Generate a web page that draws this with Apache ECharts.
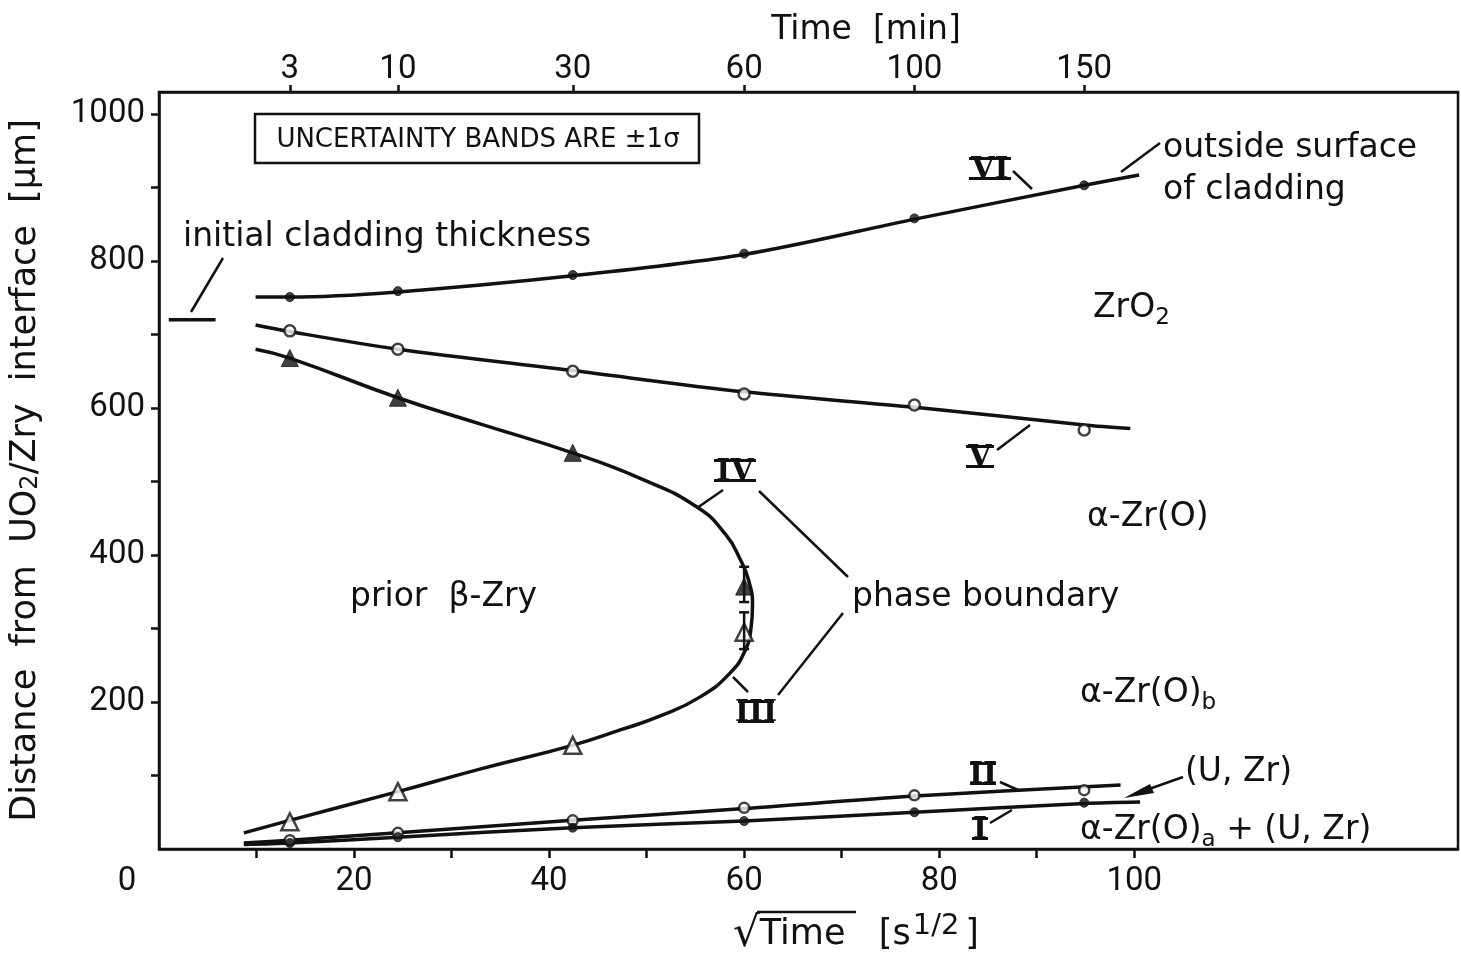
<!DOCTYPE html>
<html>
<head>
<meta charset="utf-8">
<script src="https://cdn.jsdelivr.net/npm/echarts@6/dist/echarts.min.js"></script>
<style>
  html, body { margin: 0; padding: 0; background: #fff; }
  #chart { width: 1461px; height: 954px; }
</style>
</head>
<body>
<div id="chart"></div>
<script>
// Oxidation times (min) at which the specimens were sectioned
const timeMin = [3, 10, 30, 60, 100, 150];
// Abscissa in sqrt(seconds)
const sqrtTime = timeMin.map(m => Math.sqrt(m * 60));

// Measured boundary positions (µm from the UO2/Zry interface)
const posVI = [751, 759, 781, 810, 858, 903];   // outside surface of cladding
const posV = [705, 680, 650, 619, 604, 570];    // ZrO2 / alpha-Zr(O)
const posIV = [668, 614, 539, 357];             // alpha-Zr(O) / prior beta
const posIII = [37, 78, 141, 295];              // prior beta / alpha-Zr(O)b
const posII = [12, 22, 39, 56, 73, 80];         // (U,Zr) outer boundary
const posI = [8, 16, 29, 38, 50, 63];           // alpha-Zr(O)a + (U,Zr)

// Uncertainty bands at 60 min for the two phase boundaries [x, low, high]
const errIV = [[60, 336, 384]];
const errIII = [[60, 272, 322]];

// Fitted curves through the measured boundaries [sqrt(s), µm]
const fitVI = [[9.9, 751], [13.4, 751], [24.5, 758], [42.4, 780], [60, 809], [77.5, 857], [94.9, 903], [100.5, 917]];
const fitV = [[9.9, 713], [13.4, 704], [24.5, 680], [42.4, 651], [60, 622], [77.5, 601], [94.9, 577], [99.6, 572]];
const fitPhase = [
  [9.9, 680], [13.4, 668], [24.5, 614], [33, 578], [42.4, 539], [49.4, 504], [55.2, 465], [58.1, 428],
  [59.6, 394], [60.45, 366], [60.86, 332], [60.7, 300], [60.1, 270], [58.6, 240], [55.5, 207],
  [51.4, 181], [47.3, 162], [42.4, 141], [33, 109], [24.5, 78], [13.4, 39], [8.7, 22]
];
const fitII = [[8.7, 8], [13.4, 12], [24.5, 22], [42.4, 39], [60, 55], [77.5, 72], [98.6, 87]];
const fitI = [[8.7, 6], [13.4, 8], [24.5, 16], [42.4, 29], [60, 38], [77.5, 50], [94.9, 62], [100.6, 64]];
const initialThickness = [[1.0, 720], [5.8, 720]];

// Axis ticks
const xTicks = [10, 20, 30, 40, 50, 60, 70, 80, 90, 100];
const xLabels = [0, 20, 40, 60, 80, 100];
const yTicks = [100, 200, 300, 400, 500, 600, 700, 800, 900, 1000];
const yLabels = [200, 400, 600, 800, 1000];

const FONT = '"DejaVu Sans", sans-serif';
const NUMFONT = 'Roboto, "DejaVu Sans", sans-serif';
const INK = '#111';

const pair = (xs, ys) => ys.map((y, i) => [xs[i], y]);

function fitSeries(data, smooth) {
  return {
    type: 'line', data, smooth: smooth || 0.3, showSymbol: false, silent: true,
    lineStyle: { color: INK, width: 3.5 }, z: 2
  };
}
function markSeries(data, symbol, size, filled) {
  return {
    type: 'scatter', data, symbol, symbolSize: size, z: 4,
    itemStyle: filled
      ? { color: INK, borderColor: INK, borderWidth: 1 }
      : { color: '#fff', borderColor: INK, borderWidth: 2.5 }
  };
}
function errorSeries(data) {
  return {
    type: 'custom', data, z: 5,
    renderItem(params, api) {
      const lo = api.coord([api.value(0), api.value(1)]);
      const hi = api.coord([api.value(0), api.value(2)]);
      const w = 5;
      const st = { stroke: INK, lineWidth: 2.5 };
      return {
        type: 'group',
        children: [
          { type: 'line', shape: { x1: lo[0], y1: lo[1], x2: hi[0], y2: hi[1] }, style: st },
          { type: 'line', shape: { x1: lo[0] - w, y1: lo[1], x2: lo[0] + w, y2: lo[1] }, style: st },
          { type: 'line', shape: { x1: hi[0] - w, y1: hi[1], x2: hi[0] + w, y2: hi[1] }, style: st }
        ]
      };
    }
  };
}

// Text and leader lines placed on the drawing
function txt(x, y, text, size, extra) {
  return {
    type: 'text', x, y, z: 10,
    style: Object.assign({
      text, font: `${size}px ${FONT}`, fill: INK, verticalAlign: 'middle'
    }, extra || {})
  };
}
function leader(x1, y1, x2, y2) {
  return { type: 'line', z: 10, shape: { x1, y1, x2, y2 }, style: { stroke: INK, lineWidth: 2.5 } };
}
// Roman numeral with the horizontal bars used in the curve labels
function roman(cx, cy, text, w) {
  return {
    type: 'group', z: 10,
    children: [
      { type: 'text', x: cx, y: cy, style: { text, font: `bold 30px "DejaVu Serif", serif`, fill: INK, align: 'center', verticalAlign: 'middle' } },
      { type: 'rect', shape: { x: cx - w / 2, y: cy - 13, width: w, height: 3 }, style: { fill: INK } },
      { type: 'rect', shape: { x: cx - w / 2, y: cy + 7, width: w, height: 3 }, style: { fill: INK } }
    ]
  };
}

const richSub = {
  n: { font: `33px ${FONT}`, fill: INK, lineHeight: 44 },
  t: { font: `35px ${FONT}`, fill: INK, lineHeight: 46 },
  r: { font: `42px ${FONT}`, fill: INK, lineHeight: 46 },
  s: { font: `23px ${FONT}`, fill: INK, verticalAlign: 'bottom', lineHeight: 30 },
  u: { font: `29px ${FONT}`, fill: INK, verticalAlign: 'top', lineHeight: 32, padding: [0, 6, 0, 2] }
};
function richTxt(x, y, text) {
  return { type: 'text', x, y, z: 10, style: { text, rich: richSub, font: `33px ${FONT}`, fill: INK, verticalAlign: 'middle' } };
}

const chart = echarts.init(document.getElementById('chart'), null, { renderer: 'canvas' });

const option = {
  backgroundColor: '#fff',
  animation: false,
  grid: { left: 158, right: 3, top: 92, bottom: 105, show: true, borderColor: INK, borderWidth: 2.5 },
  xAxis: [
    {
      type: 'value', min: 0, max: 133.2, position: 'bottom',
      axisLine: { show: true, onZero: false, lineStyle: { color: INK, width: 2.5 } },
      axisTick: { show: true, customValues: xTicks, length: 9, lineStyle: { color: INK, width: 2.5 } },
      axisLabel: {
        customValues: xLabels, margin: 16, color: INK, fontFamily: NUMFONT, fontSize: 33,
        formatter: v => (v === 0 ? '{z|0}' : String(v)),
        rich: { z: { fontFamily: NUMFONT, fontSize: 33, color: INK, padding: [0, 64, 0, 0] } }
      },
      splitLine: { show: false }
    },
    {
      type: 'value', min: 0, max: 133.2, position: 'top',
      axisLine: { show: true, onZero: false, lineStyle: { color: INK, width: 2.5 } },
      axisTick: { show: true, customValues: sqrtTime, length: 7, lineStyle: { color: INK, width: 2.5 } },
      axisLabel: {
        customValues: sqrtTime, margin: 6, color: INK, fontFamily: NUMFONT, fontSize: 33,
        formatter: v => String(Math.round(v * v / 60))
      },
      splitLine: { show: false }
    }
  ],
  yAxis: {
    type: 'value', min: 0, max: 1030,
    name: 'Distance  from  UO{s|2}/Zry  interface  [μm]',
    nameLocation: 'middle', nameRotate: 90, nameGap: 116,
    nameTextStyle: {
      fontFamily: FONT, fontSize: 35, color: INK,
      rich: {
        s: { fontFamily: FONT, fontSize: 24, color: INK, verticalAlign: 'bottom', lineHeight: 32 }
      }
    },
    axisLine: { show: true, lineStyle: { color: INK, width: 2.5 } },
    axisTick: { show: true, customValues: yTicks, length: 8, lineStyle: { color: INK, width: 2.5 } },
    axisLabel: {
      customValues: yLabels, margin: 14, color: INK, fontFamily: NUMFONT, fontSize: 33,
      formatter: v => String(v)
    },
    splitLine: { show: false }
  },
  series: [
    fitSeries(fitVI),
    fitSeries(fitV),
    fitSeries(fitPhase, 0.5),
    fitSeries(fitII),
    fitSeries(fitI),
    { type: 'line', data: initialThickness, showSymbol: false, silent: true, lineStyle: { color: INK, width: 3.5 } },
    markSeries(pair(sqrtTime, posVI), 'circle', 9, true),
    markSeries(pair(sqrtTime, posV), 'circle', 11, false),
    markSeries(pair(sqrtTime, posIV), 'triangle', 17, true),
    markSeries(pair(sqrtTime, posIII), 'triangle', 17, false),
    markSeries(pair(sqrtTime, posII), 'circle', 10, false),
    markSeries(pair(sqrtTime, posI), 'circle', 9, true),
    errorSeries(errIV),
    errorSeries(errIII)
  ],
  graphic: [
    txt(866, 30, 'Time  [min]', 33, { align: 'center' }),
    // uncertainty note
    { type: 'rect', z: 10, shape: { x: 255, y: 114, width: 444, height: 49 }, style: { fill: 'none', stroke: INK, lineWidth: 2.5 } },
    txt(478, 140, 'UNCERTAINTY BANDS ARE ±1σ', 26, { align: 'center' }),
    // initial cladding thickness
    txt(183, 237, 'initial cladding thickness', 33),
    leader(191, 312, 223, 258),
    // outside surface
    txt(1163, 148, 'outside surface', 33),
    txt(1163, 190, 'of cladding', 33),
    leader(1121, 172, 1160, 143),
    roman(990, 170, 'VI', 42),
    leader(1013, 171, 1032, 189),
    richTxt(1093, 308, '{n|ZrO}{s|2}'),
    roman(980, 458, 'V', 28),
    leader(997, 450, 1030, 425),
    txt(1087, 517, 'α-Zr(O)', 33),
    roman(735, 472, 'IV', 42),
    leader(723, 490, 697, 508),
    leader(759, 491, 848, 577),
    txt(350, 597, 'prior  β-Zry', 33),
    txt(852, 597, 'phase boundary', 33),
    roman(756, 713, 'III', 36),
    leader(748, 692, 733, 677),
    leader(778, 695, 843, 613),
    richTxt(1080, 693, '{n|α-Zr(O)}{s|b}'),
    roman(983, 775, 'II', 26),
    leader(1000, 782, 1018, 790),
    txt(1185, 772, '(U, Zr)', 33),
    leader(1183, 777, 1135, 794),
    { type: 'polygon', z: 10, shape: { points: [[1124, 798], [1150, 784], [1154, 793]] }, style: { fill: INK } },
    roman(980, 830, 'I', 16),
    leader(990, 823, 1012, 810),
    richTxt(1080, 830, '{n|α-Zr(O)}{s|a}{n| + (U, Zr)}'),
    // bottom axis title
    richTxt(733, 935, '{r|√}{t|Time   [s}{u|1/2}{t|]}'),
    { type: 'line', z: 10, shape: { x1: 757, y1: 912, x2: 856, y2: 912 }, style: { stroke: INK, lineWidth: 2.5 } }
  ]
};

chart.setOption(option);
</script>
</body>
</html>
